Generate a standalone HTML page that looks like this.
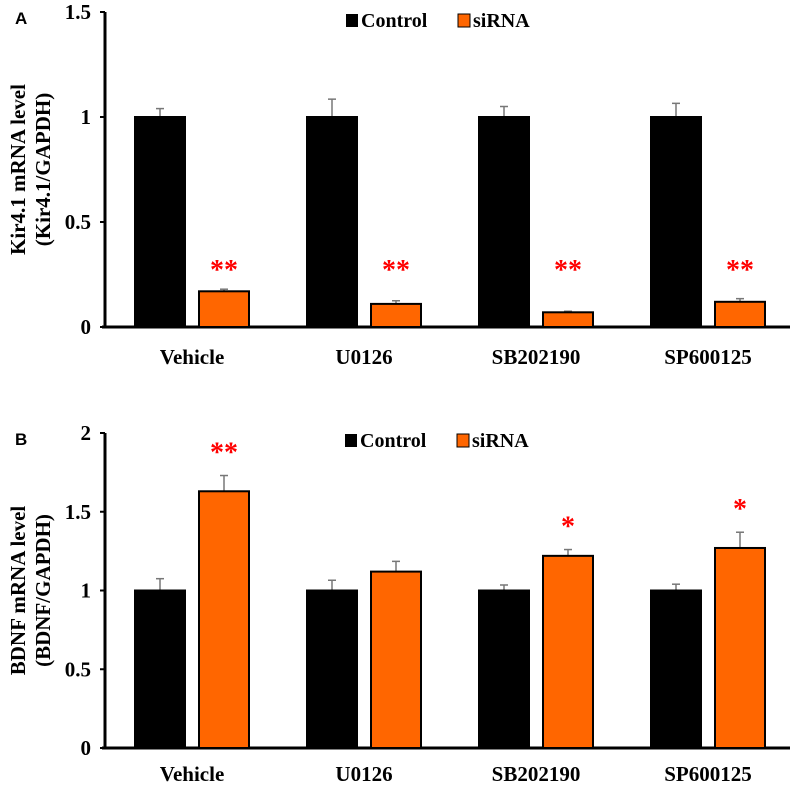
<!DOCTYPE html>
<html><head><meta charset="utf-8"><style>
body{margin:0;background:#fff;}
svg text{font-family:"Liberation Serif",serif;font-weight:bold;}
</style></head><body>
<svg id="c" width="800" height="784" xmlns="http://www.w3.org/2000/svg"></svg>
<script>
const categories=["Vehicle","U0126","SB202190","SP600125"];
const kirControl=[1,1,1,1];
const kirControlErr=[0.04,0.085,0.05,0.065];
const kirSirna=[0.17,0.11,0.07,0.12];
const kirSirnaErr=[0.01,0.015,0.005,0.015];
const kirStars=["**","**","**","**"];
const kirTicks=["0","0.5","1","1.5"];
const bdnfControl=[1,1,1,1];
const bdnfControlErr=[0.075,0.065,0.035,0.04];
const bdnfSirna=[1.63,1.12,1.22,1.27];
const bdnfSirnaErr=[0.1,0.065,0.04,0.1];
const bdnfStars=["**","","*","*"];
const bdnfTicks=["0","0.5","1","1.5","2"];
const NS="http://www.w3.org/2000/svg";
const svg=document.getElementById('c');
function mk(t,a,p){const e=document.createElementNS(NS,t);for(const k in a)e.setAttribute(k,a[k]);(p||svg).appendChild(e);return e;}
function panel(o){
 const g=mk('g',{});
 
 
 const y=v=>o.y0-(v/o.max)*(o.y0-o.yTop);
 const x0=105;
 let t=mk('text',{x:15,y:o.yTop+12,'font-size':17},g);t.textContent=o.letter;
 t.setAttribute('style','font-family:"Liberation Sans",sans-serif');
 
 const ax=mk('line',{x1:x0,y1:o.yTop,x2:x0,y2:o.y0,stroke:'#000','stroke-width':3},g);
 
 const bx=mk('line',{x1:x0-3,y1:o.y0,x2:790,y2:o.y0,stroke:'#000','stroke-width':3},g);
 
 o.ticks.forEach(s=>{const v=parseFloat(s);const yy=y(v);
  mk('line',{x1:x0-5,y1:yy,x2:x0,y2:yy,stroke:'#000','stroke-width':2},g);
  const tt=mk('text',{x:91,y:yy+7,'text-anchor':'end','font-size':21},g);tt.textContent=s;
  });
 const cy=(o.y0+o.yTop)/2;
 const yt=mk('text',{transform:`translate(25,${cy}) rotate(-90)`,'text-anchor':'middle','font-size':21},g);
 
 const s1=mk('tspan',{x:0,dy:0},yt);s1.textContent=o.t1;
 const s2=mk('tspan',{x:0,dy:25},yt);s2.textContent=o.t2;
 categories.forEach((c,i)=>{
  const gx=135+i*172;
  [[o.ctrl,o.ctrlErr,gx,'#000','bar-control'],[o.si,o.siErr,gx+64,'#ff6600','bar-sirna']].forEach(([vals,errs,bx,col,nm])=>{
   const v=vals[i],top=y(v);
   const eb=mk('line',{x1:bx+25,y1:y(v+errs[i]),x2:bx+25,y2:top,stroke:'#777','stroke-width':1.5},g);
   
   mk('line',{x1:bx+21,y1:y(v+errs[i]),x2:bx+29,y2:y(v+errs[i]),stroke:'#777','stroke-width':1.5},g);
   const r=mk('rect',{x:bx,y:top,width:50,height:o.y0-top,fill:col,stroke:'#000','stroke-width':2},g);
   
  });
  if(o.stars[i]){
   const sy=o.starY!==undefined?o.starY:y(o.si[i]+o.siErr[i])-14;
   const st=mk('text',{x:gx+89,y:sy,'text-anchor':'middle','font-size':28,fill:'#ff0000','font-weight':'normal'},g);
   st.textContent=o.stars[i];}
  const cl=mk('text',{x:gx+57,y:o.y0+o.labOff,'text-anchor':'middle','font-size':21},g);cl.textContent=c;
  
 });
 const ly=o.legY;
 const l1=mk('rect',{x:o.legX,y:ly-6,width:12,height:13,fill:'#000'},g);
 
 let lt=mk('text',{x:o.legX+15,y:ly+7,'font-size':20},g);lt.textContent='Control';
 
 const l2=mk('rect',{x:o.legX+112,y:ly-6,width:12,height:13,fill:'#ff6600',stroke:'#000','stroke-width':1},g);
 
 lt=mk('text',{x:o.legX+127,y:ly+7,'font-size':20},g);lt.textContent='siRNA';
 
}
panel({name:'panel-a',letter:'A',y0:327,yTop:12,max:1.5,labOff:37,ticks:kirTicks,ctrl:kirControl,ctrlErr:kirControlErr,si:kirSirna,siErr:kirSirnaErr,stars:kirStars,starY:279,t1:'Kir4.1 mRNA level',t2:'(Kir4.1/GAPDH)',legX:346,legY:20});
panel({name:'panel-b',letter:'B',y0:748,yTop:433,max:2,labOff:33,ticks:bdnfTicks,ctrl:bdnfControl,ctrlErr:bdnfControlErr,si:bdnfSirna,siErr:bdnfSirnaErr,stars:bdnfStars,t1:'BDNF mRNA level',t2:'(BDNF/GAPDH)',legX:345,legY:440});
</script>
</body></html>
